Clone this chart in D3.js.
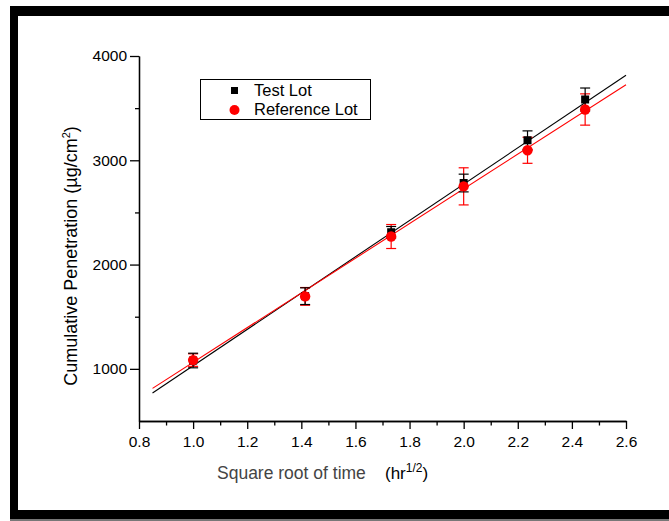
<!DOCTYPE html>
<html>
<head>
<meta charset="utf-8">
<script src="https://cdn.jsdelivr.net/npm/d3@7"></script>
<style>
  body { margin: 0; background: #fff; }
  svg { display: block; font-family: "Liberation Sans", Arial, sans-serif; }
  .axis path, .axis line { stroke: #000; stroke-width: 1.3; }
  .axis text { font-size: 15.5px; fill: #000; }
</style>
</head>
<body>
<svg width="669" height="521"></svg>
<script>
// values
var xVals = [1.0, 1.414, 1.732, 2.0, 2.236, 2.449];
var testLot = [1080, 1697, 2310, 2782, 3192, 3583];
var testErr = [70, 80, 55, 85, 90, 110];
var refLot = [1084, 1695, 2269, 2750, 3096, 3487];
var refErr = [60, 85, 115, 178, 125, 150];
// fitted lines, endpoints [x, y]
var testFit = [[0.85, 769], [2.6, 3816]];
var refFit = [[0.85, 813], [2.6, 3724]];
var xMajor = [0.8, 1.0, 1.2, 1.4, 1.6, 1.8, 2.0, 2.2, 2.4, 2.6];
var xMinor = [0.9, 1.1, 1.3, 1.5, 1.7, 1.9, 2.1, 2.3, 2.5];
var yMajor = [1000, 2000, 3000, 4000];
var yMinor = [1500, 2500, 3500];

var svg = d3.select("svg");

// frame
svg.append("rect").attr("x", 10).attr("y", 6).attr("width", 659).attr("height", 10).attr("fill", "#000");
svg.append("rect").attr("x", 10).attr("y", 6).attr("width", 8).attr("height", 513).attr("fill", "#000");
svg.append("rect").attr("x", 10).attr("y", 510).attr("width", 659).attr("height", 9).attr("fill", "#000");
svg.append("rect").attr("x", 10).attr("y", 519).attr("width", 659).attr("height", 2).attr("fill", "#777");

var x = d3.scaleLinear().domain([0.8, 2.6]).range([139, 626]);
var y = d3.scaleLinear().domain([500, 4000]).range([421, 56]);

// axes
svg.append("g").attr("class", "axis").attr("transform", "translate(0,421)")
  .call(d3.axisBottom(x).tickValues(xMinor).tickSize(4.5).tickSizeOuter(0).tickFormat(""));
svg.append("g").attr("class", "axis").attr("transform", "translate(0,421)")
  .call(d3.axisBottom(x).tickValues(xMajor).tickSize(8).tickSizeOuter(0).tickPadding(7).tickFormat(d3.format(".1f")));
svg.append("g").attr("class", "axis").attr("transform", "translate(139,0)")
  .call(d3.axisLeft(y).tickValues(yMinor).tickSize(4).tickSizeOuter(0).tickFormat(""));
svg.append("g").attr("class", "axis").attr("transform", "translate(139,0)")
  .call(d3.axisLeft(y).tickValues(yMajor).tickSize(9).tickSizeOuter(0).tickPadding(3).tickFormat(d3.format("d")));

// fit lines
var line = d3.line().x(function(d) { return x(d[0]); }).y(function(d) { return y(d[1]); });
svg.append("path").datum(testFit).attr("d", line).attr("fill", "none").attr("stroke", "#000").attr("stroke-width", 1.1);
svg.append("path").datum(refFit).attr("d", line).attr("fill", "none").attr("stroke", "#f00").attr("stroke-width", 1.1);

function errorBars(vals, errs, color) {
  var g = svg.append("g").attr("stroke", color).attr("stroke-width", 1.2);
  xVals.forEach(function(xv, i) {
    var cx = x(xv), top = y(vals[i] + errs[i]), bot = y(vals[i] - errs[i]);
    g.append("line").attr("x1", cx).attr("x2", cx).attr("y1", top).attr("y2", bot);
    g.append("line").attr("x1", cx - 5).attr("x2", cx + 5).attr("y1", top).attr("y2", top);
    g.append("line").attr("x1", cx - 5).attr("x2", cx + 5).attr("y1", bot).attr("y2", bot);
  });
}
errorBars(refLot, refErr, "#f00");
errorBars(testLot, testErr, "#000");

svg.append("g").selectAll("rect").data(testLot).enter().append("rect")
  .attr("x", function(d, i) { return x(xVals[i]) - 4; })
  .attr("y", function(d) { return y(d) - 4; })
  .attr("width", 8).attr("height", 8).attr("fill", "#000");
svg.append("g").selectAll("circle").data(refLot).enter().append("circle")
  .attr("cx", function(d, i) { return x(xVals[i]); })
  .attr("cy", function(d) { return y(d); })
  .attr("r", 5.2).attr("fill", "#f00");

// legend
svg.append("rect").attr("x", 200.5).attr("y", 79.5).attr("width", 170).attr("height", 40)
  .attr("fill", "#fff").attr("stroke", "#000").attr("stroke-width", 1);
svg.append("rect").attr("x", 231).attr("y", 87).attr("width", 7).attr("height", 7).attr("fill", "#000");
svg.append("circle").attr("cx", 234.5).attr("cy", 110).attr("r", 5).attr("fill", "#f00");
svg.append("text").attr("x", 254).attr("y", 96).attr("font-size", 16.5).text("Test Lot");
svg.append("text").attr("x", 254).attr("y", 115).attr("font-size", 16.5).text("Reference Lot");

// x title
svg.append("text").attr("x", 217).attr("y", 479).attr("font-size", 17.5).attr("fill", "#444")
  .text("Square root of time");
var xt = svg.append("text").attr("x", 385).attr("y", 479).attr("font-size", 17).attr("fill", "#000");
xt.append("tspan").text("(hr");
xt.append("tspan").attr("font-size", 12).attr("dy", -7).text("1/2");
xt.append("tspan").attr("dy", 7).text(")");

// y title
var yt = svg.append("text").attr("transform", "translate(77,256) rotate(-90)")
  .attr("text-anchor", "middle").attr("font-size", 18).attr("fill", "#000");
yt.append("tspan").text("Cumulative Penetration (\u00b5g/cm");
yt.append("tspan").attr("font-size", 11).attr("dy", -7).text("2");
yt.append("tspan").attr("dy", 7).text(")");
</script>
</body>
</html>
